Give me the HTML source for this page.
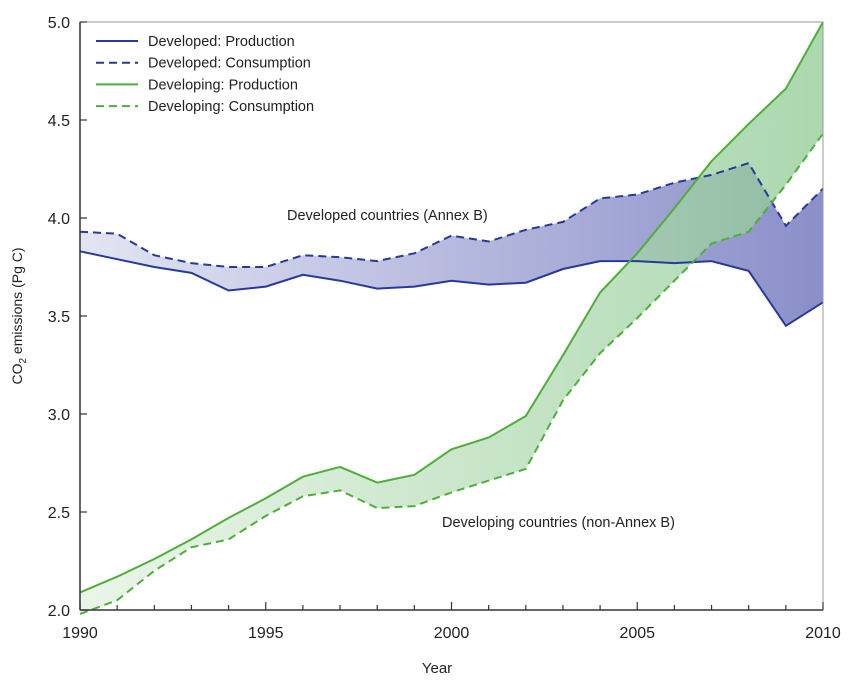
<!DOCTYPE html>
<html><head><meta charset="utf-8"><style>
body{margin:0;background:#fff}
svg{display:block;font-family:"Liberation Sans",sans-serif}
</style></head><body>
<svg id="c" width="850" height="683" viewBox="0 0 850 683">
<defs>
<linearGradient id="gb" x1="80" x2="823" y1="0" y2="0" gradientUnits="userSpaceOnUse">
<stop offset="0" stop-color="#e3e5f3"/><stop offset="1" stop-color="#8a8fc9"/></linearGradient>
<linearGradient id="gg" x1="80" x2="823" y1="0" y2="0" gradientUnits="userSpaceOnUse">
<stop offset="0" stop-color="#e4f2e2"/><stop offset="1" stop-color="#8fca93"/></linearGradient>
</defs>
<g id="plot"></g>
</svg>
<script>
const years=[1990,1991,1992,1993,1994,1995,1996,1997,1998,1999,2000,2001,2002,2003,2004,2005,2006,2007,2008,2009,2010];
const devProd=[3.83,3.79,3.75,3.72,3.63,3.65,3.71,3.68,3.64,3.65,3.68,3.66,3.67,3.74,3.78,3.78,3.77,3.78,3.73,3.45,3.57];
const devCons=[3.93,3.92,3.81,3.77,3.75,3.75,3.81,3.80,3.78,3.82,3.91,3.88,3.94,3.98,4.10,4.12,4.18,4.22,4.28,3.96,4.15];
const dvgProd=[2.09,2.17,2.26,2.36,2.47,2.57,2.68,2.73,2.65,2.69,2.82,2.88,2.99,3.30,3.62,3.82,4.05,4.29,4.48,4.66,5.00];
const dvgCons=[1.98,2.05,2.20,2.32,2.36,2.48,2.58,2.61,2.52,2.53,2.60,2.66,2.72,3.07,3.31,3.49,3.68,3.87,3.93,4.17,4.43];
const yTicks=[2.0,2.5,3.0,3.5,4.0,4.5,5.0];
const xTicks=[1990,1995,2000,2005,2010];

const X0=80,X1=823,Y0=610,Y1=22;
const x=v=>X0+(v-1990)/(2010-1990)*(X1-X0);
const y=v=>Y0-(v-2)/(5-2)*(Y0-Y1);
const NS="http://www.w3.org/2000/svg";
const g=document.getElementById('plot');
function mk(t,a,p){const e=document.createElementNS(NS,t);for(const k in a)e.setAttribute(k,a[k]);(p||g).appendChild(e);return e;}
const pts=arr=>arr.map((v,i)=>x(years[i]).toFixed(1)+','+y(v).toFixed(1));

let e;
e=mk('polygon',{points:pts(devCons).concat(pts(devProd).reverse()).join(' '),fill:'url(#gb)'});


e=mk('polygon',{points:pts(dvgProd).concat(pts(dvgCons).reverse()).join(' '),fill:'url(#gg)','fill-opacity':'0.75'});



e=mk('polyline',{points:pts(devProd).join(' '),fill:'none',stroke:'#27399a','stroke-width':2});


e=mk('polyline',{points:pts(devCons).join(' '),fill:'none',stroke:'#27399a','stroke-width':2,'stroke-dasharray':'8,5'});


e=mk('polyline',{points:pts(dvgProd).join(' '),fill:'none',stroke:'#4fae3a','stroke-width':2});


e=mk('polyline',{points:pts(dvgCons).join(' '),fill:'none',stroke:'#4fae3a','stroke-width':2,'stroke-dasharray':'8,5'});



e=mk('rect',{x:X0,y:Y1,width:X1-X0,height:Y0-Y1,fill:'none',stroke:'#999','stroke-width':1});


e=mk('line',{x1:X0,x2:X1,y1:Y0,y2:Y0,stroke:'#333','stroke-width':1.5});


e=mk('line',{x1:X0,x2:X0,y1:Y1,y2:Y0,stroke:'#333','stroke-width':1.5});



for(let yr=1990;yr<=2010;yr++){
  e=mk('line',{x1:x(yr),x2:x(yr),y1:Y0,y2:Y0-(yr%5===0?8:5),stroke:'#333','stroke-width':1.2});
  
  
}
xTicks.forEach(t=>{
  e=mk('text',{x:x(t),y:638,'text-anchor':'middle','font-size':16,fill:'#222'});
  e.textContent=t;
  
  
});
yTicks.forEach(t=>{
  e=mk('line',{x1:X0,x2:X0+7,y1:y(t),y2:y(t),stroke:'#333','stroke-width':1.2});
  
  
  e=mk('text',{x:70,y:y(t)+6,'text-anchor':'end','font-size':16,fill:'#222'});
  e.textContent=t.toFixed(1);
  
  
});

e=mk('text',{x:437,y:673,'text-anchor':'middle','font-size':15,fill:'#222'});
e.textContent='Year';


e=mk('text',{x:0,y:0,transform:'translate(22,316) rotate(-90)','text-anchor':'middle','font-size':14,fill:'#222'});
e.innerHTML='CO<tspan font-size="10" dy="4">2</tspan><tspan dy="-4"> emissions (Pg C)</tspan>';



e=mk('text',{x:287,y:220,'font-size':14.5,fill:'#222'});
e.textContent='Developed countries (Annex B)';


e=mk('text',{x:442,y:527,'font-size':14.5,fill:'#222'});
e.textContent='Developing countries (non-Annex B)';



const legNames=['Developed: Production','Developed: Consumption','Developing: Production','Developing: Consumption'];
const legColors=['#27399a','#27399a','#4fae3a','#4fae3a'];
const legDash=['','8,5','','8,5'];
legNames.forEach((n,i)=>{
  const ly=41+i*21.7;
  const lg=mk('g',{});
  
  
  mk('line',{x1:96,x2:138,y1:ly,y2:ly,stroke:legColors[i],'stroke-width':2,'stroke-dasharray':legDash[i]},lg);
  const t=mk('text',{x:148,y:ly+5,'font-size':14.5,fill:'#222'},lg);
  t.textContent=n;
});
</script>
</body></html>
